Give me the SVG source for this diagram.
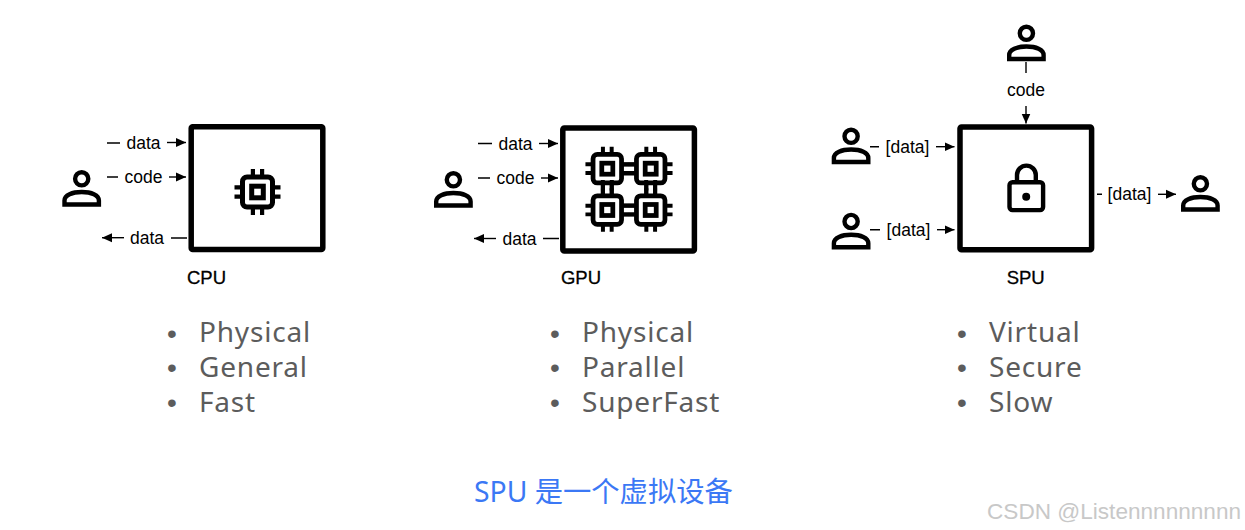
<svg xmlns="http://www.w3.org/2000/svg" width="1245" height="530" viewBox="0 0 1245 530">
<style>
text{font-family:"Liberation Sans",Arial,sans-serif}
.lb{font-size:17.5px;fill:#000;text-anchor:middle}
.tt{font-size:18.5px;fill:#000;text-anchor:middle;stroke:#000;stroke-width:.3}
.li{font-family:"Noto Sans","Open Sans",sans-serif;font-size:28px;fill:#5c5c5c;letter-spacing:.8px}
.bu{font-family:"Liberation Sans",sans-serif;font-size:28px;fill:#5c5c5c;text-anchor:middle}
.box{fill:#fff;stroke:#000;stroke-width:5.5;stroke-linejoin:round}
.ln{stroke:#000;stroke-width:1.4;fill:none}
.ic{fill:none;stroke:#000;stroke-width:4.4}
</style>
<defs>
<marker id="a" markerUnits="userSpaceOnUse" markerWidth="11" markerHeight="10" refX="10" refY="5" orient="auto"><path d="M0,0.500L10,5L0,9.500Z" fill="#000"/></marker>
<symbol id="person" overflow="visible"><circle class="ic" cx="19.400" cy="8.800" r="6.600"/><path class="ic" d="M2.200,34.500V30.500C2.200,25 10,22 19.400,22C29,22 36.600,25 36.600,30.500V34.500Z"/></symbol>
<symbol id="chip" overflow="visible"><rect x="-15" y="-15" width="30" height="30" rx="4.500" fill="none" stroke="#000" stroke-width="5"/><rect x="-5.800" y="-5.800" width="11.600" height="11.600" fill="none" stroke="#000" stroke-width="5"/><path stroke="#000" stroke-width="4.200" d="M-4.600,-15V-23M4.600,-15V-23M-4.600,15V23M4.600,15V23M-15,-4.600H-23M-15,4.600H-23M15,-4.600H23M15,4.600H23"/></symbol>
</defs>
<g id="connectors">
<path class="ln" d="M107,143H120M107,177H118M171,238H187M478,143.500H492M478,178H490M543,238.500H559M1026,62V73M870,146.700H879M870,229.700H880M1097,194.300H1102"/>
<path class="ln" marker-end="url(#a)" d="M167,142.500H186"/>
<path class="ln" marker-end="url(#a)" d="M169,177H186"/>
<path class="ln" marker-end="url(#a)" d="M124,237.700H102"/>
<path class="ln" marker-end="url(#a)" d="M539,143.500H558"/>
<path class="ln" marker-end="url(#a)" d="M541,178H558"/>
<path class="ln" marker-end="url(#a)" d="M496,238.500H474"/>
<path class="ln" marker-end="url(#a)" d="M1026,106V123.500"/>
<path class="ln" marker-end="url(#a)" d="M936,146.700H954.500"/>
<path class="ln" marker-end="url(#a)" d="M937,229.700H954.500"/>
<path class="ln" marker-end="url(#a)" d="M1158,194.300H1176"/>
<g>
<text class="lb" x="143.500" y="148.500">data</text>
<text class="lb" x="143.500" y="183">code</text>
<text class="lb" x="147" y="243.500">data</text>
<text class="lb" x="515.500" y="149.500">data</text>
<text class="lb" x="515.500" y="184">code</text>
<text class="lb" x="519.500" y="244.500">data</text>
<text class="lb" x="1026" y="95.500">code</text>
<text class="lb" x="907.500" y="153">[data]</text>
<text class="lb" x="908.500" y="236">[data]</text>
<text class="lb" x="1129.500" y="200">[data]</text>
</g>
</g>
<g id="cpu"><rect class="box" x="191.200" y="126.800" width="131.600" height="122.800" rx="1.500"/><use href="#chip" x="257.500" y="192"/><text class="tt" x="206.500" y="284">CPU</text></g>
<g id="gpu"><rect class="box" x="562.800" y="128" width="131.600" height="123" rx="1.500"/>
<path stroke="#000" stroke-width="4" d="M620,164.500H638M620,173.500H638M620,205.500H638M620,214.500H638M602.800,180V198M611.800,180V198M646.200,180V198M655.200,180V198"/>
<use href="#chip" transform="translate(607.300 168.700) scale(.95)"/><use href="#chip" transform="translate(650.700 168.700) scale(.95)"/><use href="#chip" transform="translate(607.300 210) scale(.95)"/><use href="#chip" transform="translate(650.700 210) scale(.95)"/>
<text class="tt" x="581" y="284">GPU</text></g>
<g id="spu"><rect class="box" x="960" y="127" width="131.600" height="122.800" rx="1.500"/>
<rect class="ic" x="1009.500" y="182.300" width="33.600" height="27.800" rx="3"/><path class="ic" d="M1017,183V175A9.400,9.400 0 0 1 1035.800,175V183"/><circle cx="1026.200" cy="196.700" r="4"/>
<text class="tt" x="1025.700" y="284">SPU</text></g>
<g id="user-cpu"><use href="#person" x="62.300" y="170"/></g>
<g id="user-gpu"><use href="#person" x="434" y="171"/></g>
<g id="user-spu-code"><use href="#person" x="1007" y="24.500"/></g>
<g id="user-spu-a"><use href="#person" x="831.700" y="127.500"/></g>
<g id="user-spu-b"><use href="#person" x="831.700" y="212.700"/></g>
<g id="user-spu-out"><use href="#person" x="1181" y="175"/></g>
<g id="list-cpu"><text class="bu" x="172" y="343">•</text><text class="bu" x="172" y="377">•</text><text class="bu" x="172" y="412">•</text><text class="li" x="199" y="342">Physical</text><text class="li" x="199" y="377">General</text><text class="li" x="199" y="412">Fast</text></g>
<g id="list-gpu"><text class="bu" x="555" y="343">•</text><text class="bu" x="555" y="377">•</text><text class="bu" x="555" y="412">•</text><text class="li" x="582" y="342">Physical</text><text class="li" x="582" y="377">Parallel</text><text class="li" x="582" y="412">SuperFast</text></g>
<g id="list-spu"><text class="bu" x="962" y="343">•</text><text class="bu" x="962" y="377">•</text><text class="bu" x="962" y="412">•</text><text class="li" x="989" y="342">Virtual</text><text class="li" x="989" y="377">Secure</text><text class="li" x="989" y="412">Slow</text></g>
<text x="474" y="502" style="font-family:'Noto Sans','Noto Sans CJK SC',sans-serif;font-size:28.300px;fill:#3b78f5">SPU 是一个虚拟设备</text>
<text x="987" y="519" style="font-family:'Liberation Sans',sans-serif;font-size:22.600px;fill:#c8c8c8">CSDN @Listennnnnnnnn</text>
</svg>
